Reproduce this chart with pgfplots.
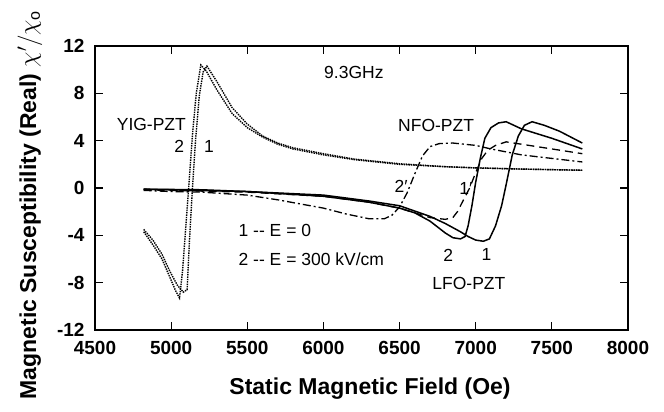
\documentclass[border=0pt]{standalone}
\usepackage{fontspec}
\setmainfont{Liberation Sans}
\usepackage{pgfplots}
\pgfplotsset{compat=1.18}

\newcommand{\annfont}{\fontsize{17.5bp}{20bp}\selectfont}

\begin{document}
\begin{tikzpicture}
\path[use as bounding box] (-95bp,-82bp) rectangle (569bp,330bp);
\begin{axis}[
    scale only axis,
    width=533bp, height=284bp,
    xmin=4500, xmax=8000,
    ymin=-12, ymax=12,
    xtick={4500,5000,...,8000},
    ytick={-12,-8,...,12},
    tick align=inside,
    major tick length=8bp,
    axis line style={line width=1.6bp},
    tick style={line width=1.2bp, black},
    ticklabel style={font=\fontsize{19bp}{22bp}\selectfont\bfseries},
    /pgf/number format/assume math mode=true,
    /pgf/number format/1000 sep={},
    xticklabel style={yshift=-8bp},
    yticklabel style={xshift=-7bp},
    xlabel={Static Magnetic Field (Oe)},
    ylabel={Magnetic Susceptibility (Real) $\chi'/\chi_{\mathrm{o}}$},
    label style={font=\fontsize{23bp}{26bp}\selectfont\bfseries},
    xlabel style={at={(axis description cs:0.516,-0.207)}, anchor=center},
    ylabel style={at={(axis description cs:-0.122,0.44)}, anchor=center, rotate=0},
    clip=false,
]
% YIG-PZT, E = 300 kV/cm
\addplot[black, line width=1.4bp, densely dotted] coordinates {
(4820,-3.7) (4880,-4.8) (4940,-6.0) (4990,-7.5) (5030,-8.7) (5055,-9.3)
(5075,-7.0) (5095,-3.5) (5115,0) (5140,4.5) (5165,8.0) (5195,10.4)
(5230,9.9) (5300,8.3) (5400,6.3) (5500,5.1) (5600,4.3) (5700,3.7)
(5800,3.3) (6000,2.8) (6200,2.4) (6500,2.0) (6800,1.8) (7000,1.7)
(7300,1.6) (7700,1.5)
};
% YIG-PZT, E = 0
\addplot[black, line width=1.4bp, densely dotted] coordinates {
(4820,-3.5) (4880,-4.4) (4940,-5.6) (4990,-7.0) (5040,-8.2) (5080,-8.8)
(5105,-8.6) (5120,-4.5) (5140,0) (5160,4.0) (5185,7.8) (5210,9.8)
(5235,10.3) (5300,9.0) (5400,6.8) (5500,5.4) (5600,4.4) (5700,3.8)
(5800,3.4) (6000,2.9) (6200,2.45) (6500,2.05) (6800,1.8) (7000,1.7)
(7300,1.6) (7700,1.5)
};
% LFO-PZT, E = 300 kV/cm
\addplot[black, line width=1.5bp] coordinates {
(4820,-0.1) (5200,-0.15) (5500,-0.3) (6000,-0.7) (6300,-1.2) (6500,-1.7)
(6600,-2.1) (6700,-2.8) (6800,-3.8) (6850,-4.2) (6900,-4.3) (6930,-4.1)
(6950,-3.2) (6975,-1.5) (7000,0.5) (7030,2.5) (7060,4.2) (7100,5.1)
(7150,5.5) (7200,5.6) (7300,5.0) (7500,4.2) (7700,3.3)
};
% LFO-PZT, E = 0
\addplot[black, line width=1.5bp] coordinates {
(4820,-0.1) (5500,-0.3) (6000,-0.6) (6300,-1.1) (6500,-1.5) (6700,-2.4)
(6800,-3.0) (6900,-3.7) (6950,-4.1) (7000,-4.4) (7050,-4.5) (7090,-4.3)
(7130,-3.2) (7170,-1.5) (7200,0.3) (7240,2.8) (7280,4.4) (7320,5.3)
(7370,5.6) (7450,5.3) (7550,4.8) (7700,3.8)
};
% NFO-PZT, E = 0 (1')
\addplot[black, line width=1.3bp, dash pattern=on 8bp off 5bp] coordinates {
(4820,-0.15) (5500,-0.35) (6000,-0.7) (6300,-1.2) (6500,-1.7) (6600,-2.1)
(6700,-2.5) (6800,-2.65) (6850,-2.5) (6880,-2.0) (6920,-1.0) (6960,0.0)
(7000,1.3) (7040,2.5) (7080,3.2) (7130,3.6) (7200,3.9) (7300,3.7)
(7500,3.3) (7700,2.9)
};
% NFO-PZT, E = 300 kV/cm (2')
\addplot[black, line width=1.3bp, dash pattern=on 8bp off 3bp on 2bp off 3bp] coordinates {
(4820,-0.2) (5000,-0.3) (5200,-0.35) (5500,-0.6) (5700,-1.0) (6000,-1.7)
(6150,-2.2) (6300,-2.6) (6400,-2.6) (6450,-2.3) (6500,-1.6) (6550,-0.4)
(6600,1.2) (6650,2.7) (6700,3.5) (6760,3.75) (6850,3.8) (7000,3.6)
(7100,3.3) (7300,2.8) (7500,2.5) (7700,2.2)
};
\node[font=\annfont] at (axis cs:6200,9.8) {9.3GHz};
\node[font=\annfont] at (axis cs:4870,5.4) {YIG-PZT};
\node[font=\annfont] at (axis cs:5053,3.5) {2};
\node[font=\annfont] at (axis cs:5248,3.5) {1};
\node[font=\annfont] at (axis cs:6740,5.3) {NFO-PZT};
\node[font=\annfont] at (axis cs:6510,0.15) {2′};
\node[font=\annfont] at (axis cs:6935,0.0) {1′};
\node[font=\annfont] at (axis cs:6820,-5.7) {2};
\node[font=\annfont] at (axis cs:7070,-5.6) {1};
\node[font=\annfont] at (axis cs:6955,-8.05) {LFO-PZT};
\node[font=\annfont, anchor=west] at (axis cs:5420,-3.6) {1 -{}- E = 0};
\node[font=\annfont, anchor=west] at (axis cs:5420,-6.0) {2 -{}- E = 300 kV/cm};
\end{axis}
\end{tikzpicture}
\end{document}
